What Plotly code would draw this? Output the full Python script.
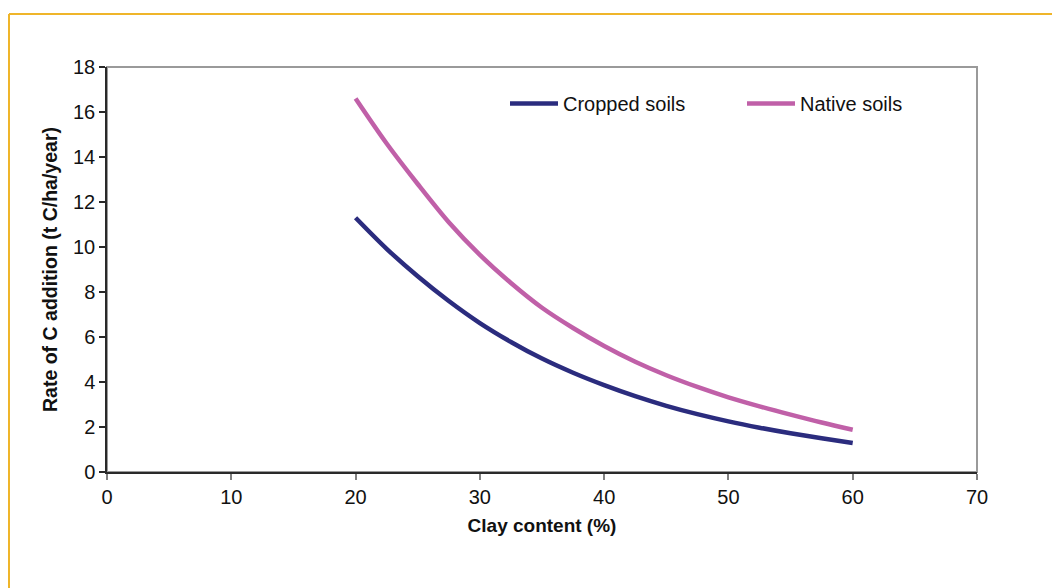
import plotly.graph_objects as go

# Clay content (%) at which the rates were evaluated
clay = [20, 22.5, 25, 27.5, 30, 32.5, 35, 37.5, 40, 42.5, 45, 47.5, 50, 52.5, 55, 57.5, 60]

# Rate of C addition (t C/ha/year)
cropped = [11.3, 9.92, 8.7, 7.6, 6.62, 5.78, 5.04, 4.41, 3.86, 3.37, 2.94, 2.57, 2.25, 1.97, 1.72, 1.5, 1.29]
native = [16.6, 14.6, 12.8, 11.1, 9.65, 8.4, 7.3, 6.4, 5.6, 4.9, 4.3, 3.78, 3.32, 2.92, 2.55, 2.2, 1.88]

x_ticks = [0, 10, 20, 30, 40, 50, 60, 70]
y_ticks = [0, 2, 4, 6, 8, 10, 12, 14, 16, 18]

FONT = "Liberation Sans, Arial, sans-serif"
W, H = 1052, 588
ML, MR, MT, MB = 107, 75, 67, 116
PW, PH = W - ML - MR, H - MT - MB


def px_x(p):
    return (p - ML) / PW


def px_y(p):
    return 1 - (p - MT) / PH


fig = go.Figure()
fig.add_trace(go.Scatter(x=clay, y=cropped, mode="lines", name="Cropped soils",
                         line=dict(color="#2B2C7E", width=4.5, shape="spline", smoothing=0.9)))
fig.add_trace(go.Scatter(x=clay, y=native, mode="lines", name="Native soils",
                         line=dict(color="#C060A8", width=4.5, shape="spline", smoothing=0.9)))

fig.update_layout(
    width=W, height=H,
    margin=dict(l=ML, r=MR, t=MT, b=MB),
    paper_bgcolor="white", plot_bgcolor="white",
    font=dict(family=FONT, color="#111111", size=20),
    showlegend=True,
    legend=dict(orientation="h", x=px_x(505), y=px_y(84), xanchor="left", yanchor="top",
                font=dict(size=20, family=FONT, color="#111111"),
                bgcolor="rgba(0,0,0,0)", itemwidth=48,
                entrywidth=174, entrywidthmode="pixels"),
    xaxis=dict(range=[0, 70], tickvals=x_ticks, showgrid=False, zeroline=False,
               showline=True, linecolor="#2a2a2a", linewidth=1.5,
               ticks="outside", ticklen=6, tickcolor="#808080", tickwidth=1.5,
               tickfont=dict(size=20, family=FONT, color="#111111"),
               title=dict(text="<b>Clay content (%)</b>", standoff=12,
                          font=dict(size=19, family=FONT, color="#111111"))),
    yaxis=dict(range=[0, 18], tickvals=y_ticks, showgrid=False, zeroline=False,
               showline=True, linecolor="#2a2a2a", linewidth=1.5,
               ticks="outside", ticklen=6, tickcolor="#2a2a2a", tickwidth=1.5,
               tickfont=dict(size=20, family=FONT, color="#111111"),
               title=dict(text="<b>Rate of C addition (t C/ha/year)</b>", standoff=10,
                          font=dict(size=19.5, family=FONT, color="#111111"))),
    shapes=[
        # grey frame around the plotting area
        dict(type="rect", xref="paper", yref="paper", x0=0, x1=1, y0=0, y1=1,
             line=dict(color="#9a9a9a", width=2), layer="below"),
        # gold border of the chart panel
        dict(type="line", xref="paper", yref="paper", x0=px_x(9), x1=px_x(1060),
             y0=px_y(14), y1=px_y(14), line=dict(color="#EFB52A", width=2)),
        dict(type="line", xref="paper", yref="paper", x0=px_x(9), x1=px_x(9),
             y0=px_y(14), y1=px_y(600), line=dict(color="#EFB52A", width=2)),
    ],
)

fig.write_html("out.html")
